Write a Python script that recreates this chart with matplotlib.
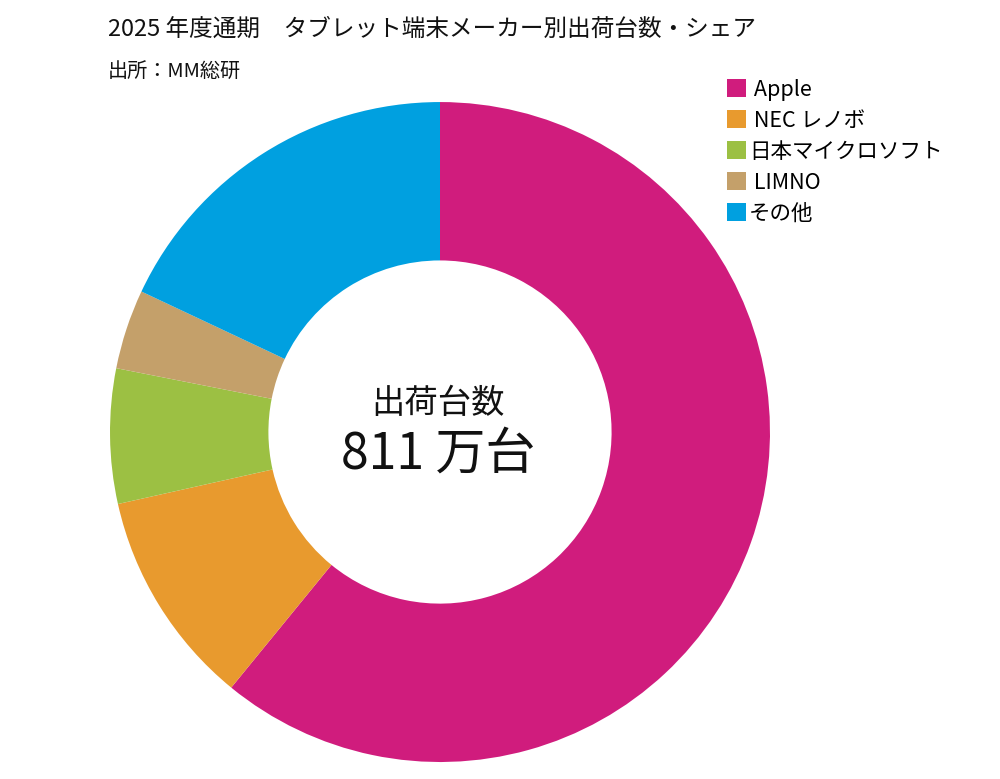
import matplotlib
matplotlib.use('Agg')
import matplotlib.pyplot as plt

plt.rcParams['font.family'] = ['Noto Sans CJK JP', 'DejaVu Sans']

# Data (share, %)
makers = [' Apple', ' NEC レノボ', '日本マイクロソフト', ' LIMNO', 'その他']
shares = [60.9, 10.6, 6.6, 3.9, 18.0]
colors = ['#D01C7D', '#E89A2E', '#9CC043', '#C4A06A', '#00A0E0']

title = '2025 年度通期\u3000タブレット端末メーカー別出荷台数・シェア'
source = '出所：MM総研'
center_label = '出荷台数'
center_value = '811 万台'

fig = plt.figure(figsize=(10, 7.79), dpi=100)
fig.patch.set_facecolor('white')

# Donut axes: center ~ (440, 432) px, outer radius ~330 px
ax = fig.add_axes([0.110, 0.0218, 0.660, 0.8472])
wedges, _ = ax.pie(shares, colors=colors, startangle=90, counterclock=False,
                   radius=1.0, wedgeprops=dict(width=0.48, linewidth=0))
ax.set_xlim(-1, 1)
ax.set_ylim(-1, 1)
ax.set_aspect('equal')
ax.axis('off')

# Centre text
ax.text(-0.006, 0.085, center_label, ha='center', va='center', fontsize=24, color='#111111')
ax.text(-0.006, -0.068, center_value, ha='center', va='center', fontsize=36, color='#111111')

# Titles
fig.text(0.108, 0.963, title, ha='left', va='center', fontsize=17, color='#111111')
fig.text(0.108, 0.908, source, ha='left', va='center', fontsize=14.5, color='#111111')

# Legend
fig.legend(wedges, makers, loc='upper left', bbox_to_anchor=(0.727, 0.899),
           frameon=False, fontsize=15.5, handlelength=0.9, handleheight=0.9,
           handletextpad=0.12, labelspacing=0.42, borderpad=0, borderaxespad=0)

fig.savefig('out.png', dpi=100, facecolor='white')
